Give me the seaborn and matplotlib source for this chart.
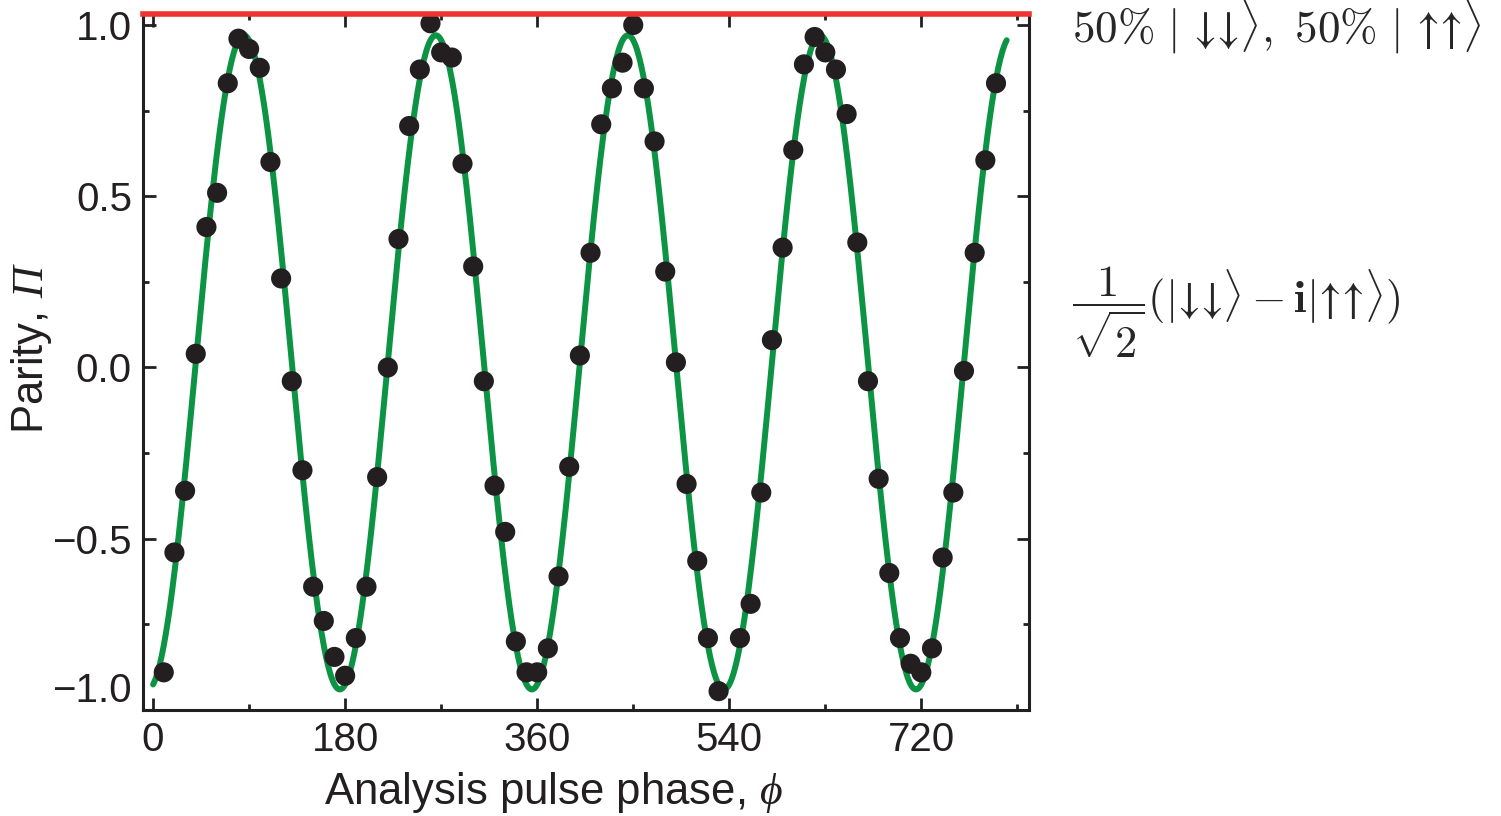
import numpy as np
import pandas as pd
import matplotlib
matplotlib.use("Agg")
import matplotlib.pyplot as plt
from matplotlib.ticker import MultipleLocator
import seaborn as sns

# measured parity vs analysis pulse phase (degrees); the 540 point is absent
phase_deg = [10, 20, 30, 40, 50, 60, 70, 80, 90, 100,
             110, 120, 130, 140, 150, 160, 170, 180, 190, 200,
             210, 220, 230, 240, 250, 260, 270, 280, 290, 300,
             310, 320, 330, 340, 350, 360, 370, 380, 390, 400,
             410, 420, 430, 440, 450, 460, 470, 480, 490, 500,
             510, 520, 530, 550, 560, 570, 580, 590, 600,
             610, 620, 630, 640, 650, 660, 670, 680, 690, 700,
             710, 720, 730, 740, 750, 760, 770, 780, 790]
parity = [-0.89, -0.54, -0.36, 0.04, 0.41, 0.51, 0.83, 0.96, 0.93, 0.875,
          0.60, 0.26, -0.04, -0.30, -0.64, -0.74, -0.845, -0.90, -0.79, -0.64,
          -0.32, 0.00, 0.375, 0.705, 0.87, 1.005, 0.92, 0.905, 0.595, 0.295,
          -0.04, -0.345, -0.48, -0.80, -0.89, -0.89, -0.82, -0.61, -0.29, 0.035,
          0.335, 0.71, 0.815, 0.89, 1.00, 0.815, 0.66, 0.28, 0.015, -0.34,
          -0.565, -0.79, -0.945, -0.79, -0.69, -0.365, 0.08, 0.35, 0.635,
          0.885, 0.965, 0.92, 0.87, 0.74, 0.365, -0.04, -0.325, -0.60, -0.79,
          -0.865, -0.89, -0.82, -0.555, -0.365, -0.01, 0.335, 0.605, 0.83]

# sinusoidal fit parameters
fit_amplitude = 0.955
fit_offset = 0.015
fit_peak_deg = 85
fit_range = (0, 800)

x_ticks = [0, 180, 360, 540, 720]
y_ticks = [-1.0, -0.5, 0.0, 0.5, 1.0]
y_ticklabels = ["\u22121.0", "\u22120.5", "0.0", "0.5", "1.0"]

# unicode arrows avoid mathtext's relation spacing
label_top = "$50\\%\\ |\\ \u2193\u2193\\rangle,\\ 50\\%\\ |\\ \u2191\u2191\\rangle$"
label_mid = "$\\dfrac{1}{\\sqrt{2}}(|\u2193\u2193\\rangle - \\mathbf{i}|\u2191\u2191\\rangle)$"

GREEN = "#0c9444"
DOT = "#231f20"
RED = "#ee3332"

sns.set_theme(style="ticks")
plt.rcParams["font.family"] = ["Liberation Sans", "DejaVu Sans"]
plt.rcParams["mathtext.fontset"] = "custom"
plt.rcParams["mathtext.rm"] = "Liberation Sans"
plt.rcParams["mathtext.it"] = "Liberation Sans:italic"
plt.rcParams["mathtext.sf"] = "Liberation Serif:italic"

df = pd.DataFrame({"phase": phase_deg, "parity": parity})
fit_x = np.linspace(fit_range[0], fit_range[1], 801)
fit = pd.DataFrame({
    "phase": fit_x,
    "parity": fit_amplitude * np.cos(np.deg2rad(2 * (fit_x - fit_peak_deg))) + fit_offset,
})

fig = plt.figure(figsize=(15.01, 8.16), dpi=100)
ax = fig.add_axes([0.0953, 0.1299, 0.5903, 0.8529])

sns.lineplot(data=fit, x="phase", y="parity", color=GREEN, lw=4.3, ax=ax, zorder=2)
sns.scatterplot(data=df, x="phase", y="parity", color=DOT, s=210, edgecolor="none",
                ax=ax, zorder=3)

ax.set_xlim(-9.4, 821)
ax.set_ylim(-1.0, 1.032)
ax.set_xticks(x_ticks)
ax.set_yticks(y_ticks, y_ticklabels)
ax.xaxis.set_minor_locator(MultipleLocator(90))
ax.yaxis.set_minor_locator(MultipleLocator(0.25))
ax.tick_params(which="both", direction="in", top=True, right=True, width=2,
               color="#231f20", labelsize=29, labelcolor="#231f20")
ax.tick_params(which="major", length=9, pad=8)
ax.tick_params(which="minor", length=4)
ax.yaxis.get_major_ticks()[0].label1.set_verticalalignment("bottom")

for side in ["left", "bottom", "right"]:
    ax.spines[side].set_linewidth(2.2)
    ax.spines[side].set_color("#231f20")
ax.spines["top"].set_linewidth(4)
ax.spines["top"].set_color(RED)
ax.spines["top"].set_zorder(5)

ax.set_xlabel(r"Analysis pulse phase, $\mathsf{\phi}$", fontsize=31.5, color="#231f20")
ax.set_ylabel(r"Parity, $\mathsf{\Pi}$", fontsize=31.5, color="#231f20")
ax.xaxis.set_label_coords(0.463, -0.086)
ax.yaxis.set_label_coords(-0.101, 0.52)

fig.text(0.714, 0.967, label_top, fontsize=32.5, ha="left", va="center",
         math_fontfamily="cm")
fig.text(0.714, 0.617, label_mid, fontsize=32, ha="left", va="center",
         math_fontfamily="cm")

fig.savefig("out.png", dpi=100)
